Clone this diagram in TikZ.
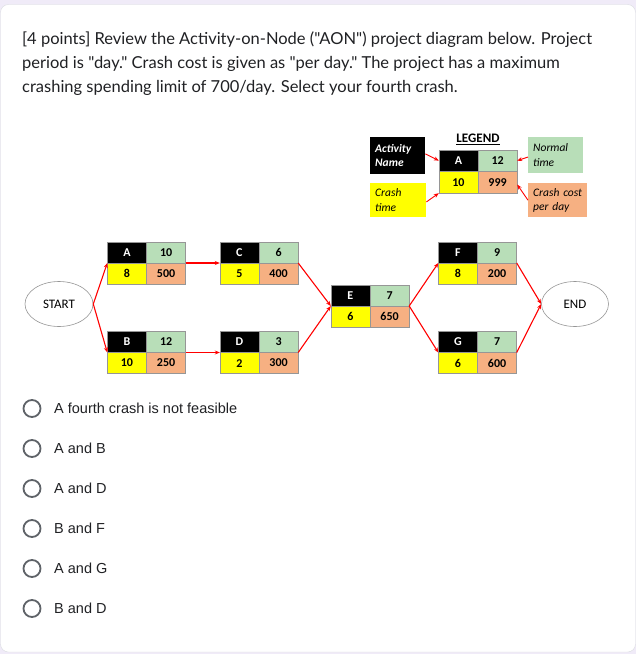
\documentclass[tikz,border=0pt]{standalone}
\usepackage{fontspec}
\setmainfont{Carlito}
\newfontfamily\titlefont{Lato}
\newfontfamily\optfont{Liberation Sans}
\usetikzlibrary{arrows.meta,calc,shapes.geometric}
\definecolor{pagebg}{HTML}{F0EBF8}
\definecolor{cardline}{HTML}{DADCE0}
\definecolor{cgreen}{RGB}{184,222,184}
\definecolor{corange}{RGB}{246,176,130}
\definecolor{cyellow}{RGB}{255,255,0}
\definecolor{cellline}{RGB}{150,150,150}
\definecolor{txtdark}{HTML}{202124}
\definecolor{radiogray}{HTML}{5F6368}
\newcommand{\actcells}[5]{%
  \fill[black] (#1.north west) rectangle (#1.center);
  \fill[cgreen] (#1.north) rectangle (#1.east);
  \fill[cyellow] (#1.west) rectangle (#1.south);
  \fill[corange] (#1.center) rectangle (#1.south east);
  \draw[cellline, line width=0.6pt] (#1.north west) rectangle (#1.south east)
     (#1.north) -- (#1.south) (#1.west) -- (#1.east);
  \node[celltxt, text=white] (#1-n) at ($(#1.north west)!0.5!(#1.center)$) {#2};
  \node[celltxt] (#1-t) at ($(#1.north)!0.5!(#1.east)$) {#3};
  \node[celltxt] (#1-c) at ($(#1.west)!0.5!(#1.south)$) {#4};
  \node[celltxt] (#1-k) at ($(#1.center)!0.5!(#1.south east)$) {#5};
}
\begin{document}
\begin{tikzpicture}[x=1pt,y=-1pt,
  act/.style={rectangle, minimum width=78pt, minimum height=42pt, inner sep=0pt},
  celltxt/.style={font=\fontsize{12}{13}\selectfont\bfseries, inner sep=0pt, text=black},
  oval/.style={ellipse, draw=cellline, line width=0.6pt, minimum width=68pt, minimum height=45pt, inner sep=0pt, font=\fontsize{13}{15}\selectfont},
  arr/.style={draw=red, line width=1.1pt, -{Stealth[length=5pt,width=4pt]}},
  legbox/.style={rectangle, inner sep=0pt, align=left, anchor=north west, text width=50pt, font=\fontsize{11.5}{14.5}\selectfont\itshape},
  titletxt/.style={anchor=base west, inner sep=0pt, text=txtdark, font=\titlefont\fontsize{16.5}{18}\selectfont},
  opttxt/.style={anchor=west, inner sep=0pt, text=txtdark, font=\optfont\fontsize{14.5}{17}\selectfont},
  radio/.style={circle, draw=radiogray, line width=1.8pt, minimum size=17pt, inner sep=0pt}
]
\useasboundingbox (0,0) rectangle (636,654);
\fill[pagebg] (0,0) rectangle (636,654);
\draw[cardline, fill=white, rounded corners=8pt] (0.5,4.5) rectangle (635.5,652);

% title
\node[titletxt] (t1) at (22,44) {[4 points] Review the Activity-on-Node ("AON") project diagram below. Project};
\node[titletxt] (t2) at (22,68) {period is "day." Crash cost is given as "per day." The project has a maximum};
\node[titletxt] (t3) at (22,92) {crashing spending limit of 700/day. Select your fourth crash.};

% legend
\node[font=\fontsize{13}{15}\selectfont\bfseries, inner sep=0pt] (leg) at (478,139) {\underline{LEGEND}};
\node[act, minimum height=43pt] (LB) at (478,171.5) {};
\actcells{LB}{A}{12}{10}{999}
\node[legbox, fill=black, minimum width=55pt, minimum height=37pt, text=white, font=\fontsize{11.5}{14.5}\selectfont\bfseries\itshape, inner xsep=5pt, inner ysep=4pt, text width=45pt] (lname) at (370,137) {Activity\\Name};
\node[legbox, fill=cyellow, minimum width=56pt, minimum height=34pt, inner xsep=5pt, inner ysep=3pt, text width=46pt] (lcrash) at (370,183) {Crash\\time};
\node[legbox, fill=cgreen, minimum width=55pt, minimum height=36pt, inner xsep=5pt, inner ysep=4pt, text width=45pt] (lnorm) at (528,137) {Normal\\time};
\node[legbox, fill=corange, minimum width=59pt, minimum height=34pt, inner xsep=5pt, inner ysep=3pt, text width=49pt] (lcost) at (528,183) {Crash cost\\per day};
\draw[arr, line width=0.9pt] ($(lname.north east)!0.45!(lname.south east)$) -- ($(LB.north west)!0.25!(LB.south west)$);
\draw[arr, line width=0.9pt] ($(lnorm.north west)!0.55!(lnorm.south west)$) -- ($(LB.north east)!0.25!(LB.south east)$);
\draw[arr, line width=0.9pt] ($(lcrash.north east)!0.55!(lcrash.south east)$) -- (LB.south west);
\draw[arr, line width=0.9pt] ($(lcost.north west)!0.5!(lcost.south west)$) -- ($(LB.north east)!0.8!(LB.south east)$);

% network
\node[oval] (START) at (59,304) {START};
\node[oval, minimum width=67pt] (END) at (575,304) {END};
\node[act] (A) at (146.5,263) {};
\node[act] (B) at (146.5,352.5) {};
\node[act] (C) at (259,263) {};
\node[act] (D) at (259,352.5) {};
\node[act] (E) at (370,306) {};
\node[act] (F) at (477.5,263) {};
\node[act] (G) at (477.5,352.5) {};
\actcells{A}{A}{10}{8}{500}
\actcells{B}{B}{12}{10}{250}
\actcells{C}{C}{6}{5}{400}
\actcells{D}{D}{3}{2}{300}
\actcells{E}{E}{7}{6}{650}
\actcells{F}{F}{9}{8}{200}
\actcells{G}{G}{7}{6}{600}
\draw[arr] (START.east) -- (A.west);
\draw[arr] (START.east) -- (B.west);
\draw[arr] (A.east) -- (C.west);
\draw[arr] (B.east) -- (D.west);
\draw[arr] (C.east) -- (E.west);
\draw[arr] (D.east) -- (E.west);
\draw[arr] (E.east) -- (F.west);
\draw[arr] (E.east) -- (G.west);
\draw[arr] (F.east) -- (END.west);
\draw[arr] (G.east) -- (END.west);

% options
\foreach \i/\t in {0/A fourth crash is not feasible,1/A and B,2/A and D,3/B and F,4/A and G,5/B and D}{
  \node[radio] (r\i) at (32,408.5+40*\i) {};
  \node[opttxt] (o\i) at (54,408.5+40*\i) {\t};
}
\end{tikzpicture}
\end{document}
